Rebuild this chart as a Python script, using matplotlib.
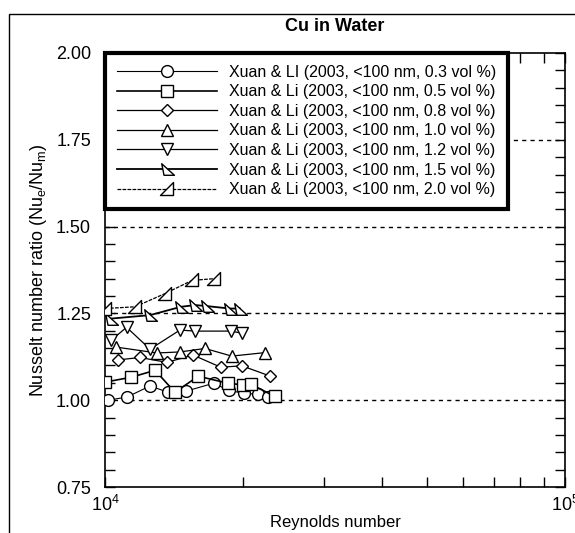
import numpy as np
import matplotlib.pyplot as plt
from matplotlib.path import Path
from matplotlib.patches import Rectangle
from matplotlib.ticker import MultipleLocator, NullFormatter, FixedLocator

plt.rcParams['font.family'] = ['Liberation Sans', 'DejaVu Sans']
plt.rcParams['mathtext.fontset'] = 'custom'
plt.rcParams['mathtext.rm'] = 'Liberation Sans'
plt.rcParams['mathtext.it'] = 'Liberation Sans'

# Xuan & Li (2003), Cu nanoparticles in water
re_03 = [10150, 11160, 12530, 13700, 15000, 17240, 18580, 20040, 21480, 22570]
nu_03 = [1.000, 1.009, 1.041, 1.023, 1.026, 1.049, 1.028, 1.020, 1.017, 1.009]

re_05 = [10000, 11390, 12850, 14190, 15950, 18490, 19940, 20750, 23390]
nu_05 = [1.052, 1.066, 1.086, 1.023, 1.069, 1.049, 1.044, 1.046, 1.011]

re_08 = [10670, 11910, 13630, 15540, 17850, 19840, 22800]
nu_08 = [1.116, 1.123, 1.109, 1.130, 1.095, 1.099, 1.070]

re_10 = [10570, 12970, 14550, 16500, 18860, 22240]
nu_10 = [1.153, 1.136, 1.139, 1.149, 1.127, 1.137]

re_12 = [10300, 11140, 12530, 14550, 15700, 18770, 19840]
nu_12 = [1.172, 1.210, 1.147, 1.202, 1.199, 1.199, 1.193]

re_15 = [10300, 12530, 14620, 15700, 16660, 18670, 19640]
nu_15 = [1.235, 1.245, 1.269, 1.274, 1.271, 1.264, 1.264]

re_20 = [10000, 11620, 13500, 15460, 17240]
nu_20 = [1.264, 1.269, 1.307, 1.345, 1.350]

fractions = ['0.3', '0.5', '0.8', '1.0', '1.2', '1.5', '2.0']
ref_lines = [1.00, 1.25, 1.50, 1.75]

tri_right = Path([(-0.5, 0.5), (-0.3, -0.5), (0.6, -0.5), (-0.5, 0.5)],
                 [Path.MOVETO, Path.LINETO, Path.LINETO, Path.CLOSEPOLY])
tri_half = Path([(0.5, 0.55), (0.5, -0.45), (-0.55, -0.45), (0.5, 0.55)],
                [Path.MOVETO, Path.LINETO, Path.LINETO, Path.CLOSEPOLY])

series = [(re_03, nu_03, 'o', 8.5, 0.8),
          (re_05, nu_05, 's', 8, 1.2),
          (re_08, nu_08, 'D', 6.5, 0.9),
          (re_10, nu_10, '^', 9, 0.9),
          (re_12, nu_12, 'v', 9, 0.9),
          (re_15, nu_15, tri_right, 10, 1.3),
          (re_20, nu_20, tri_half, 10, 0.9)]

fig = plt.figure(figsize=(5.75, 5.33), dpi=100)
ax = fig.add_axes([105 / 575, 1 - 487 / 533, 460 / 575, 434 / 533])

# outer frame of the scanned figure
fig.patches.append(Rectangle((9 / 575, -0.1), 1.2, 1.1 - 14 / 533,
                             transform=fig.transFigure, fill=False,
                             edgecolor='black', linewidth=1.0))

for y in ref_lines:
    ax.axhline(y, color='black', linewidth=1.0, linestyle=(0, (3, 3)), zorder=1)

for i, (x, y, m, ms, lw) in enumerate(series):
    name = 'LI' if i == 0 else 'Li'
    ls = (0, (3, 1)) if i == 6 else '-'
    ax.plot(x, y, marker=m, markersize=ms, markerfacecolor='white',
            markeredgecolor='black', markeredgewidth=1.0, color='black',
            linewidth=lw, linestyle=ls, zorder=3,
            label=f'Xuan & {name} (2003, <100 nm, {fractions[i]} vol %)')

ax.set_xscale('log')
ax.set_xlim(1e4, 1e5)
ax.set_ylim(0.75, 2.0)
ax.xaxis.set_minor_formatter(NullFormatter())
ax.yaxis.set_major_locator(FixedLocator([0.75, 1.0, 1.25, 1.5, 1.75, 2.0]))
ax.yaxis.set_minor_locator(MultipleLocator(0.05))
ax.yaxis.set_major_formatter(plt.FuncFormatter(lambda v, p: f'{v:.2f}'))
ax.tick_params(which='both', direction='in', top=True, right=True,
               labelsize=13, width=1.0, length=7)
ax.tick_params(axis='y', pad=10)
ax.tick_params(axis='x', pad=6)
for s in ax.spines.values():
    s.set_linewidth(1.2)

ax.set_xlabel('Reynolds number', fontsize=12, labelpad=0)
ax.set_ylabel(r'Nusselt number ratio (Nu$_e$/Nu$_m$)', fontsize=13, labelpad=5)
ax.set_title('Cu in Water', fontsize=13, fontweight='bold', pad=16)

leg = ax.legend(loc='upper left', bbox_to_anchor=(0.0, 1.0), borderaxespad=0,
                fontsize=11.5, frameon=True, fancybox=False, framealpha=1,
                handlelength=6.3, handletextpad=0.75, labelspacing=0.29,
                borderpad=0.72)
leg.get_frame().set_edgecolor('black')
leg.get_frame().set_linewidth(3)
leg.set_zorder(5)

fig.savefig('out.png', dpi=100)
